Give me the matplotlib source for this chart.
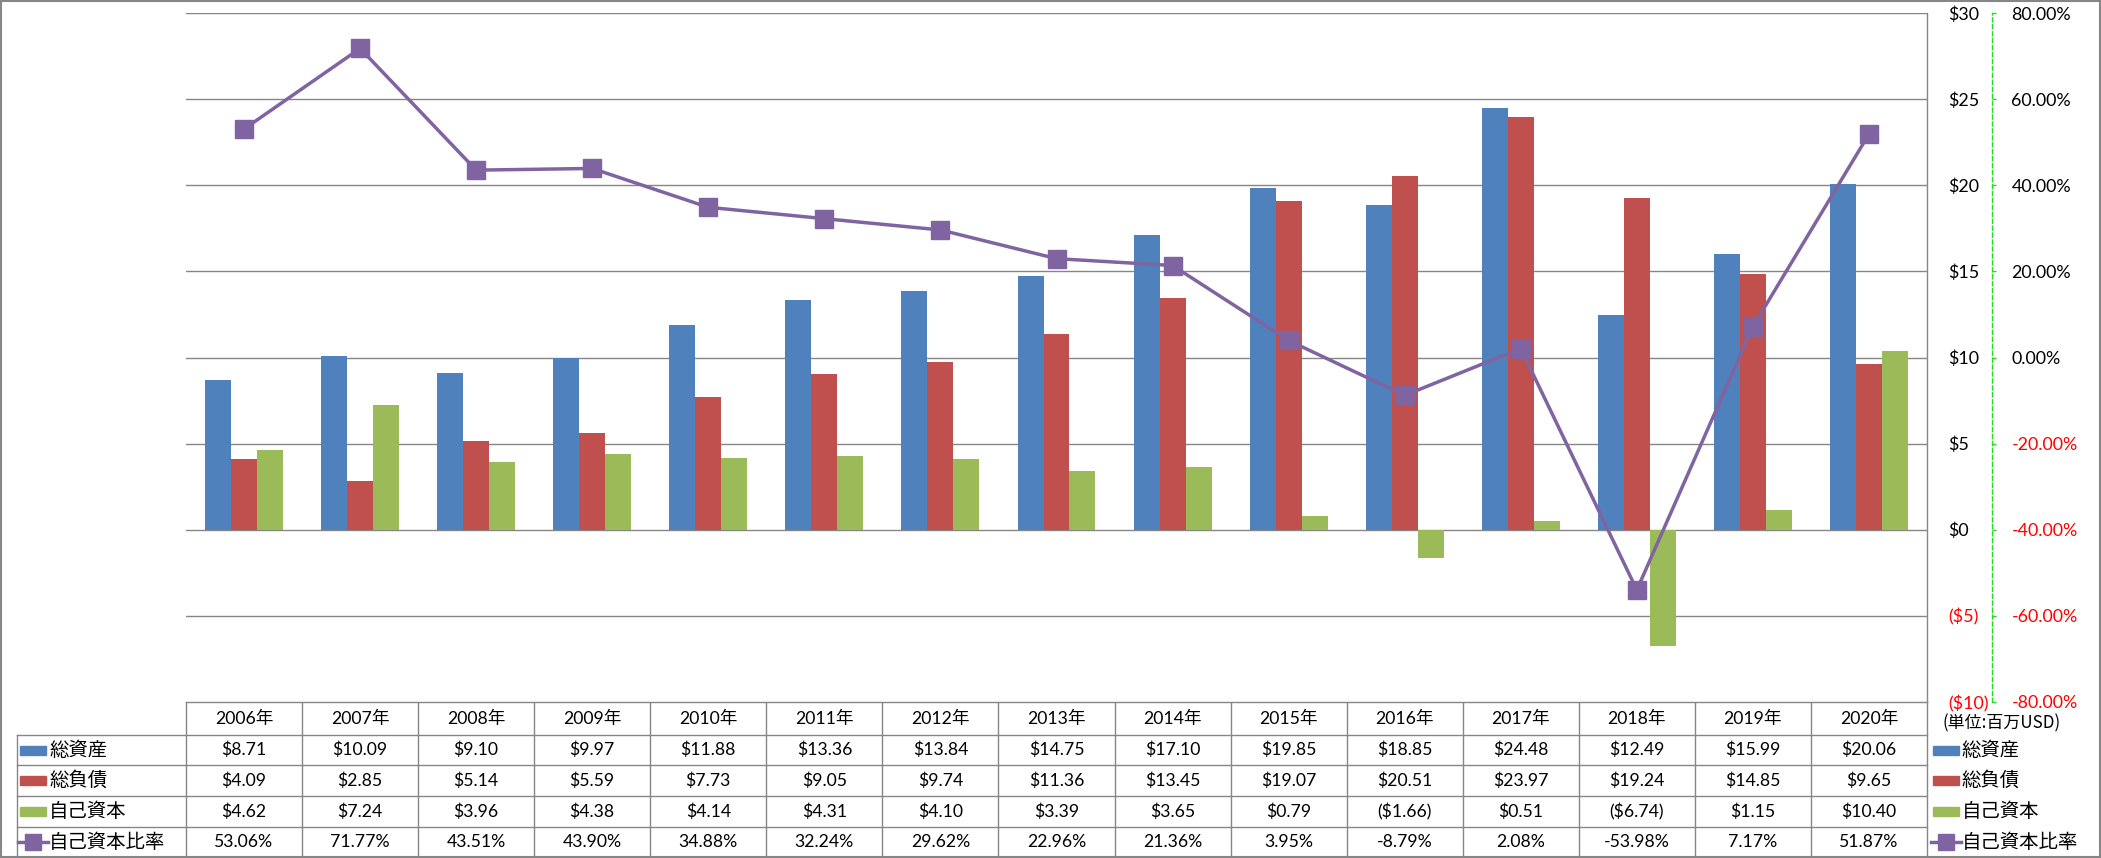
import numpy as np
import matplotlib
matplotlib.use('Agg')
import matplotlib.pyplot as plt
from matplotlib.patches import Rectangle
from matplotlib.lines import Line2D

years = ['2006年', '2007年', '2008年', '2009年', '2010年', '2011年', '2012年', '2013年',
         '2014年', '2015年', '2016年', '2017年', '2018年', '2019年', '2020年']
total_assets = [8.71, 10.09, 9.10, 9.97, 11.88, 13.36, 13.84, 14.75, 17.10, 19.85, 18.85, 24.48, 12.49, 15.99, 20.06]
total_liab = [4.09, 2.85, 5.14, 5.59, 7.73, 9.05, 9.74, 11.36, 13.45, 19.07, 20.51, 23.97, 19.24, 14.85, 9.65]
equity = [4.62, 7.24, 3.96, 4.38, 4.14, 4.31, 4.10, 3.39, 3.65, 0.79, -1.66, 0.51, -6.74, 1.15, 10.40]
equity_ratio = [53.06, 71.77, 43.51, 43.90, 34.88, 32.24, 29.62, 22.96, 21.36, 3.95, -8.79, 2.08, -53.98, 7.17, 51.87]
series_names = ['総資産', '総負債', '自己資本', '自己資本比率']
colors = ['#4F81BD', '#C0504D', '#9BBB59', '#8064A2']

left_ticks = [30, 25, 20, 15, 10, 5, 0, -5, -10]
right_ticks = [80, 60, 40, 20, 0, -20, -40, -60, -80]


def money(v):
    return '(${:.2f})'.format(-v) if v < 0 else '${:.2f}'.format(v)


def money0(v):
    return '(${})'.format(-v) if v < 0 else '${}'.format(v)


def fit_size(fig, text, family, target_px, base=12.0):
    # scale a font size so that the text gets the width
    r = fig.canvas.get_renderer()
    t = fig.text(0, 0, text, fontsize=base, family=family)
    w = t.get_window_extent(r).width
    t.remove()
    return base * target_px / w


def main():
    W, H = 2101, 858
    fig = plt.figure(figsize=(W / 100, H / 100), dpi=100)
    fig.patch.set_facecolor('white')

    tfont = ['Lato', 'Noto Sans CJK JP', 'DejaVu Sans']
    jfont = ['Noto Sans CJK JP', 'DejaVu Sans']
    grid_c = '#868686'
    green = '#22DD22'

    fs = fit_size(fig, '$10.09', tfont, 55)
    fs_ax = fit_size(fig, '80.00%', tfont, 60)
    fs_j = fit_size(fig, '自己資本比率', jfont, 116)
    fs_unit = fit_size(fig, '(単位:百万USD)', jfont, 118)

    x0, x1, ytop, ybot = 186, 1927, 13, 702
    ax = fig.add_axes([x0 / W, (H - ybot) / H, (x1 - x0) / W, (ybot - ytop) / H])
    ax2 = ax.twinx()

    x = np.arange(len(years))
    bw = 0.224
    ax.bar(x - bw, total_assets, bw, color=colors[0], zorder=3)
    ax.bar(x, total_liab, bw, color=colors[1], zorder=3)
    ax.bar(x + bw, equity, bw, color=colors[2], zorder=3)
    ax.set_xlim(-0.5, len(years) - 0.5)
    ax.set_ylim(-10, 30)
    ax.set_xticks([])
    for v in left_ticks:
        ax.axhline(v, color=grid_c, lw=1.0, zorder=1)
    for s in ['left', 'top', 'bottom', 'right']:
        ax.spines[s].set_visible(False)
    ax.yaxis.tick_right()
    ax.set_yticks(left_ticks, labels=[money0(v) for v in left_ticks])
    ax.tick_params(axis='y', length=0, pad=15, labelsize=fs_ax)
    for lab, v in zip(ax.get_yticklabels(), left_ticks):
        lab.set_color('red' if v < 0 else 'black')
        lab.set_family(tfont)

    ax2.plot(x, equity_ratio, color=colors[3], lw=2.5, marker='s', markersize=12.5, zorder=5)
    ax2.set_ylim(-80, 80)
    for s in ['left', 'top', 'bottom']:
        ax2.spines[s].set_visible(False)
    ax2.spines['right'].set_position(('outward', 46.8))
    ax2.spines['right'].set_color(green)
    ax2.spines['right'].set_linestyle((0, (3, 2)))
    ax2.spines['right'].set_linewidth(1.0)
    ax2.set_yticks(right_ticks, labels=['{:.2f}%'.format(v) for v in right_ticks])
    ax2.tick_params(axis='y', length=3, width=1, color=green, pad=11, labelsize=fs_ax)
    for lab, v in zip(ax2.get_yticklabels(), right_ticks):
        lab.set_color('red' if v < 0 else 'black')
        lab.set_family(tfont)
    ax2.set_zorder(ax.get_zorder() + 1)
    ax2.patch.set_visible(False)
    # right value axis line
    ax.plot([1, 1], [0, 1], transform=ax.transAxes, color=grid_c, lw=1.0, clip_on=False, zorder=4)

    # data table
    axt = fig.add_axes([0, 0, 1, 1], zorder=-1)
    axt.set_xlim(0, W)
    axt.set_ylim(H, 0)
    axt.axis('off')
    axt.add_patch(Rectangle((1, 1), W - 2, H - 2, fill=False, ec=grid_c, lw=1.5))
    rows_y = [702, 735, 765, 796, 827, 857]
    col_w = (x1 - x0) / len(years)
    lx = 17
    lw = 1.0
    axt.plot([x0, x1], [rows_y[0], rows_y[0]], color=grid_c, lw=lw)
    for yy in rows_y[1:-1]:
        axt.plot([lx, x1], [yy, yy], color=grid_c, lw=lw)
    for i in range(len(years) + 1):
        xx = x0 + i * col_w
        axt.plot([xx, xx], [rows_y[0], rows_y[-1]], color=grid_c, lw=lw)
    axt.plot([lx, lx], [rows_y[1], rows_y[-1]], color=grid_c, lw=lw)

    for i, yr in enumerate(years):
        cx = x0 + (i + 0.5) * col_w
        axt.text(cx, (rows_y[0] + rows_y[1]) / 2, yr, ha='center', va='center', fontsize=fs, family=tfont)
        vals = [money(total_assets[i]), money(total_liab[i]), money(equity[i]),
                '{:.2f}%'.format(equity_ratio[i])]
        for r, s in enumerate(vals):
            axt.text(cx, (rows_y[r + 1] + rows_y[r + 2]) / 2, s, ha='center', va='center',
                     fontsize=fs, family=tfont)

    def legend_key(kx, cy, r):
        if r < 3:
            axt.add_patch(Rectangle((kx, cy - 4.5), 26, 9, color=colors[r]))
        else:
            axt.add_line(Line2D([kx - 2, kx + 28], [cy, cy], color=colors[3], lw=2.5))
            axt.add_line(Line2D([kx + 13], [cy], color=colors[3], marker='s', markersize=11))

    for r, name in enumerate(series_names):
        cy = (rows_y[r + 1] + rows_y[r + 2]) / 2
        legend_key(lx + 3, cy, r)
        axt.text(lx + 32, cy, name, ha='left', va='center', fontsize=fs_j, family=jfont)
        legend_key(1933, cy, r)
        axt.text(1962, cy, name, ha='left', va='center', fontsize=fs_j, family=jfont)

    axt.text(1943, 723, '(単位:百万USD)', ha='left', va='center', fontsize=fs_unit, family=jfont)

    plt.savefig('out.png', dpi=100)


if __name__ == '__main__':
    main()
